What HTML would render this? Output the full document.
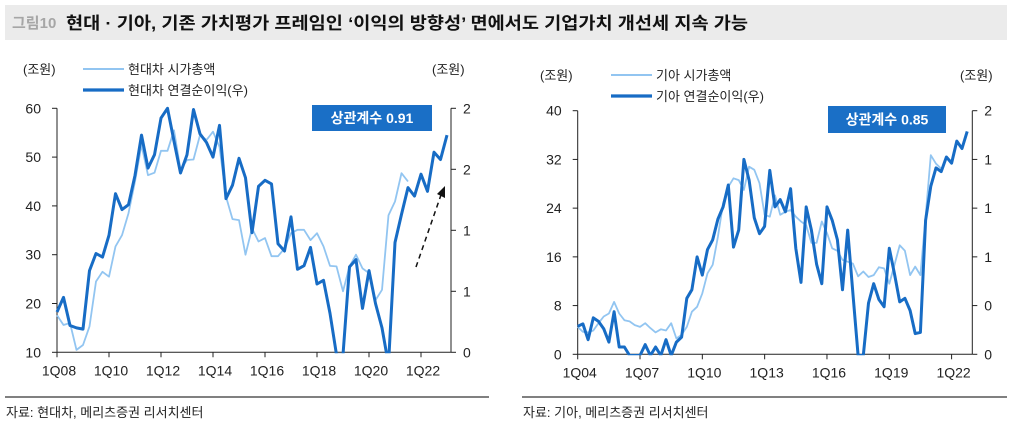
<!DOCTYPE html>
<html><head><meta charset="utf-8">
<style>
body{margin:0;background:#fff;}
svg{display:block;font-family:"Liberation Sans","Noto Sans CJK KR",sans-serif;}
</style></head>
<body>
<svg id="root" width="1012" height="425" viewBox="0 0 1012 425" xmlns="http://www.w3.org/2000/svg">
<rect x="5" y="5" width="1002" height="35" fill="#ebebeb"/>
<text x="12" y="28" font-size="15" fill="#a6a6a6" font-weight="bold">그림10</text>
<text x="66" y="29" font-size="17" font-weight="bold" fill="#111" textLength="682" lengthAdjust="spacingAndGlyphs">현대 · 기아, 기존 가치평가 프레임인 ‘이익의 방향성’ 면에서도 기업가치 개선세 지속 가능</text>
<line x1="5" y1="397" x2="489" y2="397" stroke="#000" stroke-width="1"/>
<line x1="522" y1="397" x2="1007" y2="397" stroke="#000" stroke-width="1"/>
<text x="6" y="417" font-size="13" fill="#222">자료: 현대차, 메리츠증권 리서치센터</text>
<text x="523" y="417" font-size="13" fill="#222">자료: 기아, 메리츠증권 리서치센터</text>
<g id="left-chart"></g>
<g id="right-chart"></g>
</svg>
<script>
// ---- Hyundai (left) data ----
const hmcCap = [17.6,15.6,16,10.5,11.5,15.3,24.5,26.5,25.5,31.7,34,38.5,45,52.5,46.3,46.8,51.3,51.3,55.5,47.4,49.4,49.5,54.5,53.5,55.2,52.1,41.9,37.3,37.1,30,35.4,32.7,33.4,29.7,29.7,31.3,34.4,35.1,35.1,33,34.4,31.7,27.7,27.6,22.5,27.6,30,27.2,26.2,20.7,22.8,38.1,40.9,46.7,45];
const hmcProfit = [0.33,0.45,0.22,0.20,0.19,0.67,0.81,0.78,0.96,1.30,1.17,1.21,1.45,1.78,1.51,1.62,1.92,2.00,1.73,1.47,1.62,1.99,1.79,1.72,1.60,1.86,1.26,1.37,1.59,1.43,0.98,1.36,1.41,1.38,0.89,0.83,1.11,0.68,0.71,0.86,0.56,0.59,0.32,-0.02,-0.02,0.70,0.76,0.36,0.67,0.40,0.20,-0.1,0.90,1.13,1.35,1.28,1.46,1.32,1.64,1.58,1.78];
const hmcXLabels = ["1Q08","1Q10","1Q12","1Q14","1Q16","1Q18","1Q20","1Q22"];
const hmcLeftTicks = [10,20,30,40,50,60];
const hmcRightTicks = [0,0.5,1,1.5,2];
const hmcRightLabels = ["0","1","1","2","2"];
// ---- Kia (right) data ----
const kiaCap = [4.5,3.7,3.6,3.9,5.1,6.2,6.7,8.6,6.7,5.6,5.4,4.8,4.5,5.1,4.3,3.6,4.1,3.9,5.1,2.6,3.2,4.5,7.0,7.8,10,13.3,14.7,19.3,24.8,27.5,28.9,28.6,27,30.8,30.3,28.1,22.9,22.6,26.1,22.9,23.4,23.7,22.6,21.8,21.2,18.3,18.3,21.8,19.9,17.4,17,15.5,15.2,14.9,12.8,13.6,12.7,13,14.3,14.1,11.6,14.7,17.9,17,13,14.4,13,22.6,32.7,31.3,30.5];
const kiaProfit = [0.23,0.25,0.12,0.30,0.27,0.21,0.10,0.35,0.06,0.06,-0.01,-0.01,-0.01,0.08,-0.01,0.06,-0.01,0.12,-0.01,0.10,0.14,0.46,0.53,0.80,0.65,0.86,0.94,1.11,1.21,1.39,0.88,1.02,1.60,1.43,1.12,0.99,1.05,1.51,1.21,1.27,1.17,1.36,0.87,0.59,1.21,1.02,0.74,0.58,1.21,1.10,0.94,0.53,1.02,0.50,-0.01,-0.01,0.42,0.58,0.45,0.39,0.87,0.66,0.43,0.46,0.36,0.17,0.18,1.10,1.38,1.53,1.50,1.62,1.57,1.75,1.69,1.83];
const kiaXLabels = ["1Q04","1Q07","1Q10","1Q13","1Q16","1Q19","1Q22"];
const kiaLeftTicks = [0,8,16,24,32,40];
const kiaRightTicks = [0,0.4,0.8,1.2,1.6,2];
const kiaRightLabels = ["0","0","1","1","1","2"];

const NS = "http://www.w3.org/2000/svg";
function mk(parent, tag, attrs){
  const e = document.createElementNS(NS, tag);
  for (const k in attrs) e.setAttribute(k, attrs[k]);
  parent.appendChild(e);
  return e;
}
function drawChart(g, c){
  const xS = i => c.x0 + i * c.dx;
  const yL = v => c.yBot - (v - c.lMin) / (c.lMax - c.lMin) * (c.yBot - c.yTop);
  const yR = v => c.yBot - (v - c.rMin) / (c.rMax - c.rMin) * (c.yBot - c.yTop);
  const clipId = c.id + "-clip";
  const defs = mk(g, "defs", {});
  const cp = mk(defs, "clipPath", {id: clipId});
  mk(cp, "rect", {x: c.x0 - 2, y: c.yTop - 2, width: c.xR - c.x0 + 4, height: c.yBot - c.yTop + 3});
  const la = mk(g, "line", {x1: c.x0, y1: c.yTop, x2: c.x0, y2: c.yBot, stroke: "#222", "stroke-width": 1});
  
  
  const ra = mk(g, "line", {x1: c.xR, y1: c.yTop, x2: c.xR, y2: c.yBot, stroke: "#222", "stroke-width": 1});
  
  
  const xa = mk(g, "line", {x1: c.x0, y1: c.yBot, x2: c.xR, y2: c.yBot, stroke: "#222", "stroke-width": 1});
  
  
  c.leftTicks.forEach(v => {
    const y = yL(v);
    mk(g, "line", {x1: c.x0 - 5, y1: y, x2: c.x0, y2: y, stroke: "#222"});
    const t = mk(g, "text", {x: c.x0 - 16, y: y + 5, "text-anchor": "end", "font-size": 14, fill: "#222"});
    t.textContent = v;
    
    
  });
  c.rightTicks.forEach((v, k) => {
    const y = yR(v);
    mk(g, "line", {x1: c.xR, y1: y, x2: c.xR + 5, y2: y, stroke: "#222"});
    const t = mk(g, "text", {x: c.xR + 12, y: y + 5, "font-size": 14, fill: "#222"});
    t.textContent = c.rightLabels[k];
    
    
  });
  c.xLabels.forEach((lab, k) => {
    const x = xS(k * c.labStep);
    mk(g, "line", {x1: x, y1: c.yBot, x2: x, y2: c.yBot + 5, stroke: "#222"});
    const t = mk(g, "text", {x: x + 2, y: c.yBot + 23, "text-anchor": "middle", "font-size": 14, fill: "#222"});
    t.textContent = lab;
    
    
  });
  const pts1 = c.cap.map((v, i) => xS(i).toFixed(1) + "," + yL(v).toFixed(1)).join(" ");
  const l1 = mk(g, "polyline", {points: pts1, fill: "none", stroke: "#92c5f1", "stroke-width": 1.8, "stroke-linejoin": "round", "clip-path": "url(#" + clipId + ")"});
  
  
  const pts2 = c.profit.map((v, i) => xS(i).toFixed(1) + "," + yR(v).toFixed(1)).join(" ");
  const l2 = mk(g, "polyline", {points: pts2, fill: "none", stroke: "#176cc5", "stroke-width": 3, "stroke-linejoin": "round", "clip-path": "url(#" + clipId + ")"});
  
  
  const u1 = mk(g, "text", {x: c.unitL, y: c.legY1 + 5, "font-size": 13, fill: "#222"});
  u1.textContent = "(조원)";
  
  
  const u2 = mk(g, "text", {x: c.unitR, y: c.legY1 + 5, "font-size": 13, fill: "#222"});
  u2.textContent = "(조원)";
  
  
  const lg1 = mk(g, "line", {x1: c.legX, y1: c.legY1, x2: c.legX + 41, y2: c.legY1, stroke: "#92c5f1", "stroke-width": 2});
  
  
  const lt1 = mk(g, "text", {x: c.legX + 45, y: c.legY1 + 5, "font-size": 13, fill: "#222"});
  lt1.textContent = c.leg1;
  
  
  const lg2 = mk(g, "line", {x1: c.legX, y1: c.legY2, x2: c.legX + 41, y2: c.legY2, stroke: "#176cc5", "stroke-width": 3.2});
  
  
  const lt2 = mk(g, "text", {x: c.legX + 45, y: c.legY2 + 5, "font-size": 13, fill: "#222"});
  lt2.textContent = c.leg2;
  
  
  const bx = mk(g, "rect", {x: c.box[0], y: c.box[1], width: c.box[2], height: c.box[3], fill: "#1a6fc6"});
  
  
  const bt = mk(g, "text", {x: c.box[0] + c.box[2] / 2, y: c.box[1] + c.box[3] / 2 + 5, "text-anchor": "middle", "font-size": 14, "font-weight": "bold", fill: "#fff"});
  bt.textContent = c.boxText;
  
  
}
drawChart(document.getElementById("left-chart"), {
  id: "l", x0: 57, dx: 6.5, xR: 451, yTop: 108.3, yBot: 352.3,
  lMin: 10, lMax: 60, rMin: 0, rMax: 2, labStep: 8,
  cap: hmcCap, profit: hmcProfit, xLabels: hmcXLabels,
  leftTicks: hmcLeftTicks, rightTicks: hmcRightTicks, rightLabels: hmcRightLabels,
  unitL: 23, unitR: 432, legX: 83, legY1: 69, legY2: 90,
  leg1: "현대차 시가총액", leg2: "현대차 연결순이익(우)",
  box: [312, 105, 120, 26], boxText: "상관계수 0.91"
});
drawChart(document.getElementById("right-chart"), {
  id: "r", x0: 577.7, dx: 5.193, xR: 972.3, yTop: 110.7, yBot: 354.3,
  lMin: 0, lMax: 40, rMin: 0, rMax: 2, labStep: 12,
  cap: kiaCap, profit: kiaProfit, xLabels: kiaXLabels,
  leftTicks: kiaLeftTicks, rightTicks: kiaRightTicks, rightLabels: kiaRightLabels,
  unitL: 540, unitR: 960, legX: 611, legY1: 75, legY2: 96,
  leg1: "기아 시가총액", leg2: "기아 연결순이익(우)",
  box: [828, 106, 118, 27], boxText: "상관계수 0.85"
});
const lc = document.getElementById("left-chart");
const arr = document.createElementNS(NS, "line");
arr.setAttribute("x1", 416); arr.setAttribute("y1", 267);
arr.setAttribute("x2", 442); arr.setAttribute("y2", 192);
arr.setAttribute("stroke", "#111"); arr.setAttribute("stroke-width", 1.5);
arr.setAttribute("stroke-dasharray", "5,4");


lc.appendChild(arr);
const head = document.createElementNS(NS, "polygon");
head.setAttribute("points", "445,186 437,194 445,198");
head.setAttribute("fill", "#111");


lc.appendChild(head);
</script>
</body></html>
